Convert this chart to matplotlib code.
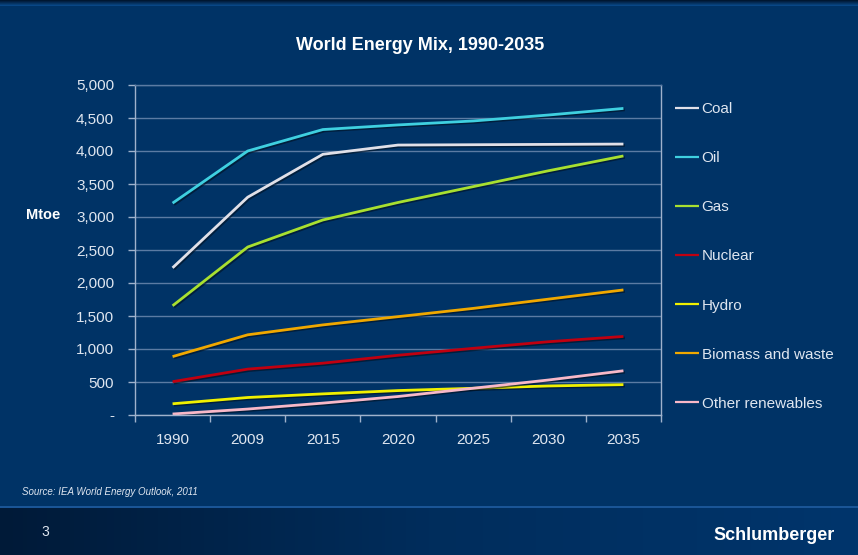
import matplotlib
matplotlib.use("Agg")
import matplotlib.pyplot as plt
import matplotlib.patheffects as pe
import numpy as np

plt.rcParams['font.family'] = ['Liberation Sans', 'DejaVu Sans']

years = ["1990", "2009", "2015", "2020", "2025", "2030", "2035"]
coal = [2230, 3300, 3950, 4090, 4095, 4100, 4105]
oil = [3210, 4000, 4325, 4395, 4455, 4545, 4645]
gas = [1655, 2545, 2955, 3220, 3460, 3700, 3925]
nuclear = [505, 695, 785, 905, 1010, 1110, 1190]
hydro = [170, 265, 320, 370, 405, 440, 460]
biomass = [885, 1215, 1365, 1490, 1615, 1755, 1895]
other = [15, 90, 180, 280, 405, 530, 670]

series = [
    ("Coal", coal, "#e0e0e8"),
    ("Oil", oil, "#3fd0e0"),
    ("Gas", gas, "#a8e030"),
    ("Nuclear", nuclear, "#c00010"),
    ("Hydro", hydro, "#f0f000"),
    ("Biomass and waste", biomass, "#f0a800"),
    ("Other renewables", other, "#f8b8c8"),
]

ytick_vals = list(range(0, 5001, 500))
ytick_labels = ["-"] + ["{:,}".format(v) for v in ytick_vals[1:]]

bg = "#003366"
fg = "#dfe6f0"
grid_c = "#5b7ba3"

fig = plt.figure(figsize=(8.58, 5.55), dpi=100)
fig.patch.set_facecolor(bg)

# top strip
top = fig.add_axes([0, 1 - 6 / 555, 1, 6 / 555])
top.imshow(np.linspace(0, 1, 10).reshape(-1, 1), aspect="auto",
           cmap=matplotlib.colors.LinearSegmentedColormap.from_list("t", ["#00152e", "#0a4a8a"]),
           extent=[0, 1, 0, 1])
top.axis("off")

# bottom bar with gradient
bot = fig.add_axes([0, 0, 1, 47 / 555])
grad = np.linspace(0, 1, 256).reshape(1, -1)
bot.imshow(grad, aspect="auto",
           cmap=matplotlib.colors.LinearSegmentedColormap.from_list("b", ["#001a38", "#002d5c", "#00356c"]),
           extent=[0, 1, 0, 1])
bot.axis("off")
line_ax = fig.add_axes([0, 47 / 555, 1, 2 / 555])
line_ax.set_facecolor("#1a5596")
line_ax.set_xticks([])
line_ax.set_yticks([])
for s in line_ax.spines.values():
    s.set_visible(False)

ax = fig.add_axes([135 / 858, 1 - 415 / 555, (661 - 135) / 858, 330 / 555])
ax.set_facecolor(bg)
x = np.arange(len(years))
shadow = [pe.SimpleLineShadow(offset=(1, -1), shadow_color="#001020", alpha=0.6), pe.Normal()]
for name, vals, col in series:
    ax.plot(x, vals, color=col, lw=2.0, label=name, path_effects=shadow, solid_capstyle="butt")

ax.set_xlim(-0.5, 6.5)
ax.set_ylim(0, 5000)
ax.set_yticks(ytick_vals)
ax.set_yticklabels(ytick_labels)
ax.set_xticks(x)
ax.set_xticklabels(years)
ax.set_xticks(np.arange(-0.5, 6.6, 1), minor=True)
ax.tick_params(axis="x", which="major", length=0, pad=13, labelsize=11, labelcolor=fg)
ax.tick_params(axis="x", which="minor", length=5, width=1, color="#9fb2cc", direction="out")
ax.tick_params(axis="y", length=5, width=1, color="#9fb2cc", pad=10, labelsize=11, labelcolor=fg)
ax.yaxis.grid(True, color=grid_c, lw=1)
ax.set_axisbelow(True)
for side in ["left", "bottom", "top", "right"]:
    ax.spines[side].set_color("#9fb2cc")
    ax.spines[side].set_linewidth(1)
ax.spines["top"].set_color(grid_c)

leg = ax.legend(loc="upper left", bbox_to_anchor=(675 / 858, 1 - 102 / 555), bbox_transform=fig.transFigure,
                frameon=False, fontsize=11, handlelength=1.6, handletextpad=0.15, labelspacing=2.3,
                borderaxespad=0, borderpad=0)
for t in leg.get_texts():
    t.set_color(fg)
for h in leg.get_lines():
    h.set_linewidth(1.6)
    h.set_path_effects([])

fig.text(420 / 858, 1 - 45 / 555, "World Energy Mix, 1990-2035", ha="center", va="center",
         color="white", fontsize=13, fontweight="bold")
fig.text(60 / 858, 1 - 215 / 555, "Mtoe", ha="right", va="center", color="white",
         fontsize=10.5, fontweight="bold")
fig.text(22 / 858, 1 - 492 / 555, "Source: IEA World Energy Outlook, 2011", ha="left", va="center",
         color=fg, fontsize=7, style="italic")
fig.text(45 / 858, 1 - 532 / 555, "3", ha="center", va="center", color=fg, fontsize=10)
fig.text(835 / 858, 1 - 535 / 555, "Schlumberger", ha="right", va="center", color="white",
         fontsize=13, fontweight="bold")

fig.savefig("out.png", dpi=100, facecolor=fig.get_facecolor())
